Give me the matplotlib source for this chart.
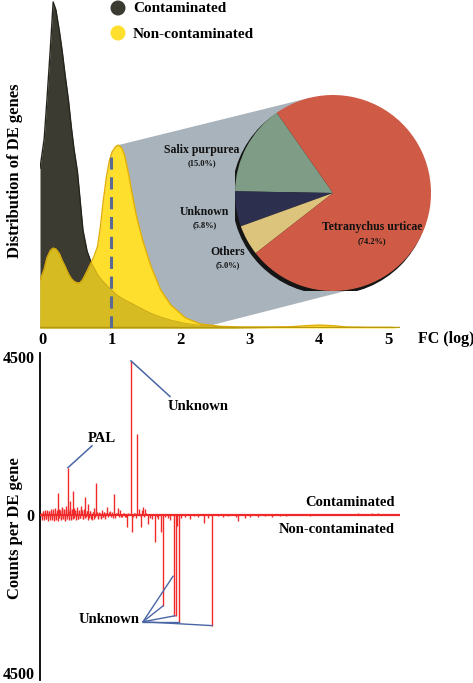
import numpy as np
import matplotlib
matplotlib.use("Agg")
import matplotlib.pyplot as plt
from matplotlib.patches import Polygon, Circle, Ellipse

# ---------------- data ----------------
fc_grid = [-0.03, 0.03, 0.07, 0.12, 0.16, 0.20, 0.25, 0.29, 0.33, 0.38, 0.42, 0.46,
           0.51, 0.55, 0.59, 0.65, 0.71, 0.75, 0.80, 0.84, 0.88, 0.93, 0.97, 1.01,
           1.06, 1.10, 1.15, 1.19, 1.25, 1.30, 1.36, 1.45, 1.57, 1.71, 1.86, 2.07,
           2.29, 2.58, 2.87, 3.30, 3.60, 3.80, 4.00, 4.20, 4.40, 4.70, 5.04, 5.15]
dens_contaminated = [0.49, 0.58, 0.70, 0.86, 1.00, 0.975, 0.91, 0.85, 0.78, 0.70, 0.62, 0.55,
                     0.48, 0.39, 0.30, 0.235, 0.20, 0.185, 0.165, 0.153, 0.143, 0.132, 0.123, 0.116,
                     0.105, 0.098, 0.092, 0.087, 0.080, 0.075, 0.068, 0.058, 0.045, 0.034, 0.024, 0.014,
                     0.008, 0.003, 0.001, 0.0, 0.0, 0.0, 0.0, 0.0, 0.0, 0.0, 0.0, 0.0]
dens_noncontaminated = [0.147, 0.18, 0.215, 0.238, 0.245, 0.242, 0.228, 0.207, 0.19, 0.166, 0.152, 0.143,
                        0.138, 0.139, 0.150, 0.175, 0.202, 0.22, 0.25, 0.307, 0.385, 0.465, 0.512, 0.54,
                        0.556, 0.561, 0.552, 0.53, 0.47, 0.41, 0.345, 0.27, 0.19, 0.117, 0.07, 0.031,
                        0.012, 0.005, 0.003, 0.003, 0.004, 0.007, 0.009, 0.007, 0.003, 0.002, 0.002, 0.0]
fc_ticks = [0, 1, 2, 3, 4, 5]

pie_labels = ["Salix purpurea", "Unknown", "Others", "Tetranychus urticae"]
pie_values = [15.0, 5.8, 5.0, 74.2]
pie_colors = ["#7e9c86", "#2d2f4f", "#dcc47c", "#cf5b46"]

# bottom panel: gene index and counts per DE gene (positive = contaminated, negative = non-contaminated)
gene_index = [91, 97, 28, 18, 33, 45, 56, 74, 78, 67, 41, 30, 102, 105,
              123, 134, 136, 139, 172, 115, 91.5, 121, 164, 198, 87, 101, 108, 137]
gene_counts = [4390, 2300, 1350, 620, 680, 500, 900, 590, 200, 225, 250, 390, 140, 170,
               -2590, -2870, -2870, -3040, -3150, -760, -480, -480, -225, -170, -350, -340, -250, -300]
noise = [(1, 60), (1.5, -130), (2, -90), (2.5, 100), (3, 110), (3.5, -140), (4, -60), (4.5, 90),
         (5, 140), (5.5, -100), (6, -120), (6.5, 150), (7, 80), (7.5, -170), (8, -50), (8.5, 120),
         (9, 120), (9.5, -90), (10, -150), (10.5, 170), (11, 90), (11.5, -130), (12, -70), (12.5, 110),
         (13, 160), (13.5, -160), (14, -110), (14.5, 190), (15, 70), (15.5, -100), (16, -140), (16.5, 130),
         (17, 100), (17.5, -170), (18.5, 160), (19, -80), (19.5, 120), (20, 150), (20.5, -140), (21, -120),
         (21.5, 230), (22, 200), (22.5, -110), (23, -90), (23.5, 170), (24, 130), (24.5, -130), (25, -160),
         (25.5, 260), (26, 180), (26.5, -120), (27, -70), (27.5, 150), (28.5, -150), (29, 110), (29.5, 200),
         (30.5, -120), (31, -130), (31.5, 140), (32, 170), (32.5, -100), (33.5, 190), (34, -90), (34.5, 120),
         (35, 140), (35.5, -150), (36, -60), (36.5, 130), (37, 240), (37.5, -110), (38, -120), (38.5, 150),
         (39, 90), (39.5, -90), (40, -80), (40.5, 170), (42, 130), (42.5, -120), (43, -110), (43.5, 100),
         (44, 160), (44.5, -90), (46, -70), (46.5, 120), (47, 120), (47.5, -140), (48, 300), (48.5, -70),
         (49, -90), (49.5, 110), (50, 100), (50.5, -100), (52, -130), (52.5, 90), (53, 80), (53.5, -110),
         (54, 210), (54.5, -70), (55, -60), (55.5, 100), (57, 90), (57.5, -90), (58, -100), (59, 80),
         (60, 70), (60.5, -120), (61, -80), (61.5, 60), (62, 140), (62.5, -70), (63, -60), (63.5, 90),
         (64, 90), (64.5, -60), (65, -120), (65.5, 70), (66, 60), (68, -70), (69, 90), (70, 110),
         (71, -50), (72, 80), (73, -80), (75, -90), (76, 70), (77, 60), (79, -60), (80, 130),
         (81, -50), (82, -70), (83, 60), (84, 50), (85, -60), (86, -60), (88, 50), (89, 40),
         (93, -60), (94, 60), (95, 50), (96, -80), (99, 180), (100, -40), (103, 230), (104, -60),
         (106, 50), (110, -80), (112, -120), (113, 40), (117, -60), (118, -100), (125, -60), (128, -90),
         (130, -150), (141, -80), (145, -60), (150, -100), (154, -40), (158, -60), (168, -90), (178, -40),
         (183, -70), (188, -40), (196, -60), (205, -80), (210, -50), (218, -70), (225, -40), (232, -50),
         (240, -40), (246, -30), (270, -20), (300, 20), (310, 40), (318, 50), (325, 40), (332, 60),
         (338, 50), (345, 40), (352, 30)]
count_ticks = [-4500, 0, 4500]
count_ticklabels = ["4500", "0", "4500"]

# ---------------- style ----------------
SERIF = ["Liberation Serif", "DejaVu Serif"]
plt.rcParams["font.family"] = SERIF
plt.rcParams["font.weight"] = "bold"

C_BLACK = "#3c3b31"
C_YELLOW = "#ffdf2e"
C_OLIVE = "#d6bb22"
C_GREY = "#a9b3bb"
C_RED = "#f02a2a"
C_BLUE = "#4a66a6"

W, H = 473, 683
fig = plt.figure(figsize=(W / 100, H / 100), dpi=100)

def rect(l, t, r, b):
    return [l / W, 1 - b / H, (r - l) / W, (b - t) / H]

# ---------------- top panel ----------------
ax = fig.add_axes(rect(40, 0, 400, 328))
x = np.array(fc_grid)
yb = np.array(dens_contaminated)
yy = np.array(dens_noncontaminated)
ax.set_xlim(-0.03, 5.165)
ax.set_ylim(0, 1.006)

ax.fill_between(x, 0, yb, color=C_BLACK, lw=0, zorder=2)
ax.plot(x, yb, color="#25251d", lw=1.0, zorder=2.1)
ax.fill_between(x, 0, yy, color=C_YELLOW, lw=0, zorder=3)
ax.fill_between(x, 0, np.minimum(yb, yy), color=C_OLIVE, lw=0, zorder=3.2)
ax.plot(x, yy, color="#e2ae08", lw=1.0, zorder=3.3)
ax.plot(x, np.minimum(yb, yy), color="#c7a514", lw=0.6, zorder=3.4)
ax.plot([x[0], x[-1]], [0.002, 0.002], color="#b8980e", lw=1.0, zorder=3.5)

# dashed line at FC = 1
y_at1 = np.interp(1.0, x, yy)
ax.plot([1.0, 1.0], [0, y_at1 - 0.01], color="#5b6a92", lw=2.2, dashes=(4, 2.5), zorder=4)

ax.set_xticks(fc_ticks)
ax.set_xticklabels([str(t) for t in fc_ticks], fontsize=12, fontweight="bold")
ax.tick_params(axis="x", length=0, pad=3)
ax.set_yticks([])
for s in ax.spines.values():
    s.set_visible(False)
ax.patch.set_alpha(0)

# pie inset
pl, pt, pr, pb = 235, 95, 431, 291
axp = fig.add_axes(rect(pl, pt, pr, pb))
axp.add_patch(Circle((-0.025, -0.03), 1.0, color="#151515", zorder=0))
axp.pie(pie_values, colors=pie_colors, startangle=125, counterclock=True, radius=1.0,
        wedgeprops=dict(linewidth=0))
axp.set_xlim(-1, 1)
axp.set_ylim(-1, 1)
axp.axis("off")

label_pos = {"Salix purpurea": (-1.34, 0.44), "Unknown": (-1.31, -0.19),
             "Others": (-1.07, -0.60), "Tetranychus urticae": (0.40, -0.35)}
for lab, val in zip(pie_labels, pie_values):
    lx, ly = label_pos[lab]
    axp.text(lx, ly, lab, ha="center", va="center", fontsize=8.5, fontweight="bold", color="#111")
    axp.text(lx, ly - 0.14, f"({val:.1f}%)", ha="center", va="center", fontsize=6, fontweight="bold", color="#111")

# grey zoom band: from the yellow peak to the pie (computed in display pixels)
ipk = int(np.argmax(yy))
peak_d = ax.transData.transform((x[ipk], yy[ipk]))
c_d = np.array([(pl + pr) / 2, H - (pt + pb) / 2])
r_d = (pr - pl) / 2
low_d = ax.transData.transform((1.0, -0.07))
left_d = ax.transData.transform((1.0, y_at1))

def tangent(p, upper):
    v = c_d - p
    d = np.hypot(*v)
    ang = np.arctan2(v[1], v[0])
    off = np.arcsin(r_d / d)
    a = ang + off if upper else ang - off
    L = np.sqrt(d * d - r_d * r_d)
    return p + L * np.array([np.cos(a), np.sin(a)])

t_up = tangent(peak_d, True)
t_lo = tangent(low_d, False)
poly_d = np.array([low_d, left_d, peak_d, t_up, c_d, t_lo])
poly = ax.transData.inverted().transform(poly_d)
ax.add_patch(Polygon(poly, closed=True, color=C_GREY, lw=0, zorder=1))

# legend
for (cy, col, lab) in [(8, C_BLACK, "Contaminated"), (33, C_YELLOW, "Non-contaminated")]:
    fig.add_artist(Ellipse((118 / W, 1 - cy / H), 15 / W, 15 / H, transform=fig.transFigure,
                           color=col, lw=0))
    fig.text(133 / W, 1 - (cy + 1) / H, lab, ha="left", va="center", fontsize=11, fontweight="bold")

fig.text(15 / W, 1 - 171 / H, "Distribution of DE genes", rotation=90, ha="center", va="center",
         fontsize=12, fontweight="bold")
fig.text(418 / W, 1 - 339 / H, "FC (log)", ha="left", va="center", fontsize=11.5, fontweight="bold")

# ---------------- bottom panel ----------------
axb = fig.add_axes(rect(40, 353, 400, 680))
axb.set_xlim(0, 360)
axb.set_ylim(-4699, 4614)
gi = np.array(gene_index + [p for p, _ in noise])
gc = np.array(gene_counts + [v for _, v in noise])
axb.vlines(gi, 0, gc, color=C_RED, lw=1.0, zorder=2)
axb.axhline(0, color=C_RED, lw=1.6, zorder=3)

for s in ["top", "right", "bottom"]:
    axb.spines[s].set_visible(False)
axb.spines["left"].set_linewidth(1.3)
axb.set_xticks([])
axb.set_yticks(count_ticks)
axb.set_yticklabels(count_ticklabels, fontsize=11.5, fontweight="bold")
axb.tick_params(axis="y", length=0, pad=4)
axb.patch.set_alpha(0)

# annotations
axb.plot([91, 130], [4390, 3375], color=C_BLUE, lw=1.1)
axb.text(158, 3094, "Unknown", ha="center", va="center", fontsize=10.5, fontweight="bold")
axb.plot([28, 52], [1350, 1970], color=C_BLUE, lw=1.1)
axb.text(62, 2165, "PAL", ha="center", va="center", fontsize=10.5, fontweight="bold")
hub = (103, -3040)
for tx, ty in [(133, -1745), (123, -2590), (135, -2870), (139, -3040), (172, -3150)]:
    axb.plot([hub[0], tx], [hub[1], ty], color=C_BLUE, lw=1.0)
axb.text(69, -2980, "Unknown", ha="center", va="center", fontsize=10.5, fontweight="bold")

axb.text(355, 360, "Contaminated", ha="right", va="center", fontsize=10.5, fontweight="bold")
axb.text(355, -420, "Non-contaminated", ha="right", va="center", fontsize=10.5, fontweight="bold")

fig.text(15 / W, 1 - 528 / H, "Counts per DE gene", rotation=90, ha="center", va="center",
         fontsize=12, fontweight="bold")

fig.savefig("out.png", dpi=100)
